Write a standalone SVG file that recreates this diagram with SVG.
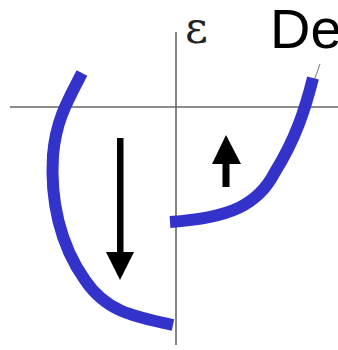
<svg xmlns="http://www.w3.org/2000/svg" width="338" height="350" viewBox="0 0 338 350">
<style>
.axis{stroke:#666;stroke-width:1.6;fill:none}
.curve{stroke:#3333CC;stroke-width:12;fill:none;stroke-linecap:butt}
.thin{stroke:#777;stroke-width:1;fill:none}
.arr{fill:#000}
</style>
<rect width="338" height="350" fill="#fff"/>
<g id="axes">
<line class="axis" x1="10" y1="107" x2="338" y2="107"/>
<line class="axis" x1="176" y1="32" x2="176" y2="345"/>
</g>
<g id="labels">
<text x="185" y="43" font-family="DejaVu Serif, serif" font-size="44" fill="#222">ε</text>
<text x="270" y="48" font-family="Liberation Sans, Arial, sans-serif" font-size="56" fill="#000">De</text>
</g>
<g id="curves">
<path class="thin" d="M268 176 C287 150 304 116 315 78 L320 64"/>
<path class="curve" d="M82 73 C68 100 56 120 53 155 C50 200 60 245 85 280 C105 310 130 316 173 325"/>
<path class="curve" d="M170 222 C230 218 258 205 275 172 C295 140 305 110 313 78"/>
</g>
<g id="arrows">
<rect class="arr" x="117" y="138" width="6.5" height="116"/>
<polygon class="arr" points="106,252 134,252 120,280"/>
<rect class="arr" x="222.5" y="160" width="7" height="27"/>
<polygon class="arr" points="212,164 241,164 226,135"/>
</g>
</svg>
